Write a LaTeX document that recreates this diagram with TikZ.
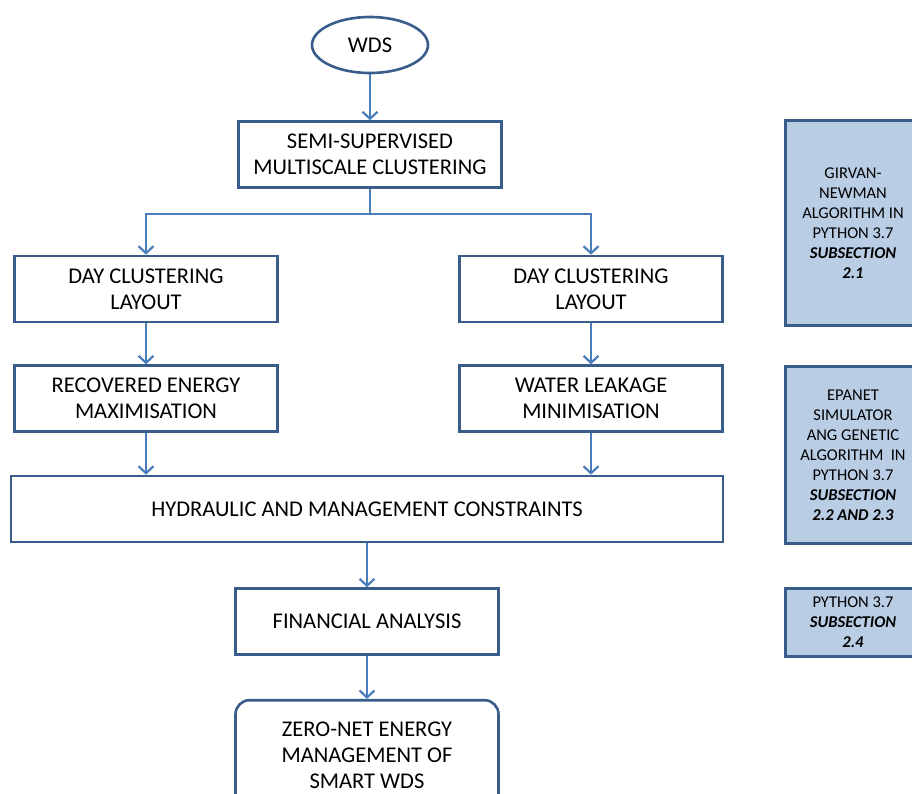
\documentclass[tikz,border=0pt]{standalone}
\usepackage{fontspec}
\setmainfont{Carlito}
\usetikzlibrary{positioning,arrows.meta,shapes.geometric}
\definecolor{boxline}{RGB}{56,93,138}
\definecolor{arrowline}{RGB}{74,126,187}
\definecolor{notefill}{RGB}{185,205,229}

\begin{document}
\begin{tikzpicture}[x=1pt, y=1pt,
    every node/.style={draw=boxline, line width=2.6pt, align=center, inner sep=0pt,
        font=\fontsize{22.5}{26}\selectfont},
    box/.style={rectangle, minimum width=263pt, minimum height=66pt},
    startnode/.style={ellipse, minimum width=116pt, minimum height=56pt},
    endnode/.style={rectangle, rounded corners=14pt, minimum width=263pt,
        text height=88pt, text depth=30pt},
    notebox/.style={rectangle, fill=notefill, line width=3pt, minimum width=136pt,
        font=\fontsize{16.5}{20}\selectfont},
    link/.style={draw=arrowline, line width=2.2pt, -{Straight Barb[length=7pt,width=15pt]}}]
    \useasboundingbox (0,0) rectangle (912,-794);
    \clip (0,0) rectangle (912,-794);
    % main chain
    \node[startnode] (wds) at (370,-45) {WDS};
    \node[box, below = 46pt of wds] (semi) {SEMI-SUPERVISED\\MULTISCALE CLUSTERING};
    \node[box] (dayl) at (146,-289) {DAY CLUSTERING\\LAYOUT};
    \node[box] (dayr) at (591,-289) {DAY CLUSTERING\\LAYOUT};
    \node[box, below = 41pt of dayl] (recov) {RECOVERED ENERGY\\MAXIMISATION};
    \node[box, below = 41pt of dayr] (leak) {WATER LEAKAGE\\MINIMISATION};
    \node[box, minimum width=712pt] (hydr) at (367,-509) {HYDRAULIC AND MANAGEMENT CONSTRAINTS};
    \node[box, below = 44pt of hydr] (fin) {FINANCIAL ANALYSIS};
    \node[endnode, below = 43pt of fin] (zero) {ZERO-NET ENERGY\\MANAGEMENT OF\\SMART WDS};
    % side notes
    \node[notebox, minimum height=205pt] (note1) at (853,-223)
        {GIRVAN-\\NEWMAN\\ALGORITHM IN\\PYTHON 3.7\\\textbf{\textit{SUBSECTION}}\\\textbf{\textit{2.1}}};
    \node[notebox, minimum height=177pt] (note2) at (853,-455)
        {EPANET\\SIMULATOR\\ANG GENETIC\\ALGORITHM~ IN\\PYTHON 3.7\\\textbf{\textit{SUBSECTION}}\\\textbf{\textit{2.2 AND 2.3}}};
    \node[notebox, minimum height=68pt] (note3) at (853,-622)
        {PYTHON 3.7\\\textbf{\textit{SUBSECTION}}\\\textbf{\textit{2.4}}};
    % connectors
    \coordinate[below = 25pt of semi.south] (split);
    \draw[link] (wds) -- (semi);
    \draw[link] (semi.south) -- (split) -| (dayl.north);
    \draw[link] (split) -| (dayr.north);
    \draw[link] (dayl) -- (recov);
    \draw[link] (dayr) -- (leak);
    \draw[link] (recov.south) -- (recov.south |- hydr.north);
    \draw[link] (leak.south) -- (leak.south |- hydr.north);
    \draw[link] (hydr) -- (fin);
    \draw[link] (fin) -- (zero);
\end{tikzpicture}
\end{document}
